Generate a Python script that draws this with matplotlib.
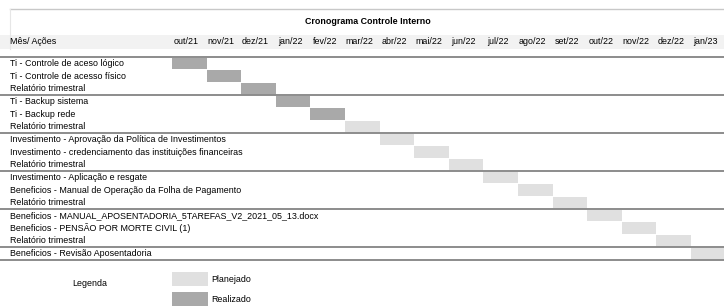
import matplotlib
matplotlib.use('Agg')
from matplotlib import pyplot as plt
from matplotlib.patches import Rectangle

# dados do cronograma
meses = ['out/21', 'nov/21', 'dez/21', 'jan/22', 'fev/22', 'mar/22', 'abr/22', 'mai/22',
         'jun/22', 'jul/22', 'ago/22', 'set/22', 'out/22', 'nov/22', 'dez/22', 'jan/23']
acoes = ['Ti - Controle de aceso lógico',
         'Ti - Controle de acesso físico',
         'Relatório trimestral',
         'Ti - Backup sistema',
         'Ti - Backup rede',
         'Relatório trimestral',
         'Investimento - Aprovação da Política de Investimentos',
         'Investimento - credenciamento das instituições financeiras',
         'Relatório trimestral',
         'Investimento - Aplicação e resgate',
         'Beneficios - Manual de Operação da Folha de Pagamento',
         'Relatório trimestral',
         'Beneficios - MANUAL_APOSENTADORIA_5TAREFAS_V2_2021_05_13.docx',
         'Beneficios - PENSÃO POR MORTE CIVIL (1)',
         'Relatório trimestral',
         'Beneficios - Revisão Aposentadoria']
# mes de cada acao (indice em meses)
inicio = [0, 1, 2, 3, 4, 5, 6, 7, 8, 9, 10, 11, 12, 13, 14, 15]
duracao = [1] * 16
status = ['Realizado'] * 5 + ['Planejado'] * 11

cores = {'Planejado': '#e0e0e0', 'Realizado': '#a9a9a9'}
linha = '#8c8c8c'

plt.rcParams['font.family'] = ['Liberation Sans Narrow', 'Liberation Sans', 'DejaVu Sans']
fs = 6.4

fig = plt.figure(figsize=(7.24, 3.07), dpi=100)
ax = fig.add_axes([0, 0, 1, 1])
ax.set_xlim(0, 724)
ax.set_ylim(307, 0)
ax.axis('off')

x0 = 172
colw = 34.6
y0 = 57
rowh = 12.67

# titulo e cabecalho
ax.add_patch(Rectangle((0, 35), 724, 14, color='#f2f2f2', lw=0))
ax.plot([10, 724], [9, 9], color='#c8c8c8', lw=1)
ax.plot([10, 10], [9, 49], color='#e6e6e6', lw=0.8)
ax.text(368, 22, 'Cronograma Controle Interno', ha='center', va='center',
        fontsize=fs, fontweight='bold')
ax.text(10, 42, 'Mês/ Ações', ha='left', va='center', fontsize=fs)
for i, m in enumerate(meses):
    ax.text(x0 + (i + 0.5) * colw - 3, 42, m, ha='center', va='center', fontsize=fs)

# barras
for i in range(len(acoes)):
    ax.barh(y0 + (i + 0.5) * rowh, duracao[i] * colw, left=x0 + inicio[i] * colw,
            height=rowh - 1, color=cores[status[i]], lw=0)
    ax.text(10, y0 + (i + 0.5) * rowh, acoes[i], ha='left', va='center', fontsize=fs)

# linhas de grupo
for k in range(0, len(acoes) + 1, 3):
    yy = y0 + k * rowh
    ax.plot([0, 724], [yy, yy], color=linha, lw=1.4)
ax.plot([0, 724], [y0 + len(acoes) * rowh, y0 + len(acoes) * rowh], color=linha, lw=1.4)

# legenda
ax.text(90, 283, 'Legenda', ha='center', va='center', fontsize=fs)
ax.add_patch(Rectangle((172, 272), 36, 14, color=cores['Planejado'], lw=0))
ax.text(211, 279, 'Planejado', ha='left', va='center', fontsize=fs)
ax.add_patch(Rectangle((172, 292), 36, 14, color=cores['Realizado'], lw=0))
ax.text(211, 299, 'Realizado', ha='left', va='center', fontsize=fs)

plt.savefig('out.png', dpi=100)
